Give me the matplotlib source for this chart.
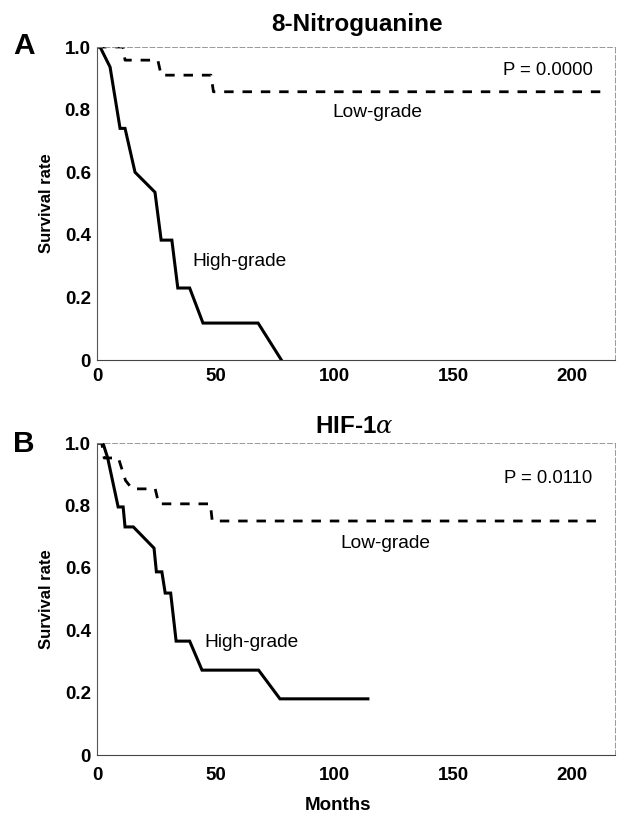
import matplotlib
matplotlib.use("Agg")
import matplotlib.pyplot as plt

# Panel A: 8-Nitroguanine
a_high_t = [0, 1.3, 5.5, 9.7, 11.8, 16, 24.4, 27, 31.5, 34, 39, 44.6, 67.8, 77.6]
a_high_s = [1.0, 1.0, 0.936, 0.74, 0.74, 0.60, 0.536, 0.383, 0.383, 0.23, 0.23, 0.118, 0.118, 0.0]
a_low_t = [0, 11, 11.8, 25.6, 27, 48, 49, 212]
a_low_s = [1.0, 1.0, 0.958, 0.958, 0.91, 0.91, 0.857, 0.857]

# Panel B: HIF-1alpha
b_high_t = [0, 2.5, 4.5, 8.9, 11, 11.8, 15.3, 24, 25, 27.3, 28.7, 31, 33.3, 39, 44.2, 68, 77, 114]
b_high_s = [1.0, 1.0, 0.952, 0.795, 0.795, 0.731, 0.731, 0.663, 0.587, 0.587, 0.519, 0.519, 0.365, 0.365, 0.272, 0.272, 0.18, 0.18]
b_low_t = [0, 2, 3, 9, 12, 14.8, 24.5, 26, 47.7, 48.5, 210]
b_low_s = [1.0, 1.0, 0.952, 0.952, 0.88, 0.853, 0.853, 0.805, 0.805, 0.75, 0.75]

titles = ["8-Nitroguanine", "HIF-1$\\alpha$"]
panel_letters = ["A", "B"]
p_values = ["P = 0.0000", "P = 0.0110"]
x_ticks = [0, 50, 100, 150, 200]
y_ticks = [0, 0.2, 0.4, 0.6, 0.8, 1.0]
y_ticklabels = ["0", "0.2", "0.4", "0.6", "0.8", "1.0"]

plt.rcParams['font.family'] = ['Liberation Sans', 'DejaVu Sans']
plt.rcParams['mathtext.fontset'] = 'dejavuserif'

W, H = 620, 817
fig = plt.figure(figsize=(W / 100, H / 100), dpi=100)

def ax_rect(l, t, r, b):
    return [l / W, 1 - b / H, (r - l) / W, (b - t) / H]

axA = fig.add_axes(ax_rect(97, 47, 615, 360))
axB = fig.add_axes(ax_rect(97, 443, 615, 755))

panels = [
    (axA, a_high_t, a_high_s, a_low_t, a_low_s, (208.7, 0.91), (117.8, 0.776), (59.8, 0.30), 6),
    (axB, b_high_t, b_high_s, b_low_t, b_low_s, (208.3, 0.872), (121.2, 0.663), (65.2, 0.346), 9),
]

for i, (ax, ht, hs, lt, ls, ppos, lpos, hpos, xpad) in enumerate(panels):
    ax.plot(ht, hs, color='black', lw=2.2, solid_joinstyle='miter')
    ax.plot(lt, ls, color='black', lw=2.0, linestyle=(0, (3.4, 3.2)))
    ax.set_xlim(0, 218)
    ax.set_ylim(0, 1.0)
    ax.set_xticks(x_ticks)
    ax.set_yticks(y_ticks)
    ax.set_yticklabels(y_ticklabels)
    ax.tick_params(length=0, labelsize=13.5)
    ax.tick_params(axis='y', pad=4.5)
    ax.tick_params(axis='x', pad=xpad)
    for lab in ax.get_xticklabels() + ax.get_yticklabels():
        lab.set_fontweight('bold')
    for s in ['top', 'right']:
        ax.spines[s].set_linestyle((0, (6, 3)))
        ax.spines[s].set_linewidth(0.6)
        ax.spines[s].set_color('#888888')
    ax.spines['left'].set_linewidth(0.8)
    ax.spines['left'].set_color('#555555')
    ax.spines['bottom'].set_linewidth(0.8)
    ax.spines['bottom'].set_color('#444444')
    ax.set_ylabel("Survival rate", fontsize=12, fontweight='bold', labelpad=8)
    ax.text(ppos[0], ppos[1], p_values[i], ha='right', va='baseline', fontsize=13.3)
    ax.text(lpos[0], lpos[1], "Low-grade", ha='center', va='baseline', fontsize=13.8)
    ax.text(hpos[0], hpos[1], "High-grade", ha='center', va='baseline', fontsize=13.8)

fig.text(357 / W, 1 - 31 / H, titles[0], ha='center', va='baseline', fontsize=17.5, fontweight='bold')
fig.text(354 / W, 1 - 433 / H, titles[1], ha='center', va='baseline', fontsize=17.5, fontweight='bold')
fig.text(13 / W, 1 - 54 / H, panel_letters[0], ha='left', va='baseline', fontsize=21.5, fontweight='bold')
fig.text(13 / W, 1 - 452 / H, panel_letters[1], ha='left', va='baseline', fontsize=21.5, fontweight='bold')
fig.text(338 / W, 1 - 810 / H, "Months", ha='center', va='baseline', fontsize=13.5, fontweight='bold')

fig.savefig("out.png", dpi=100)
